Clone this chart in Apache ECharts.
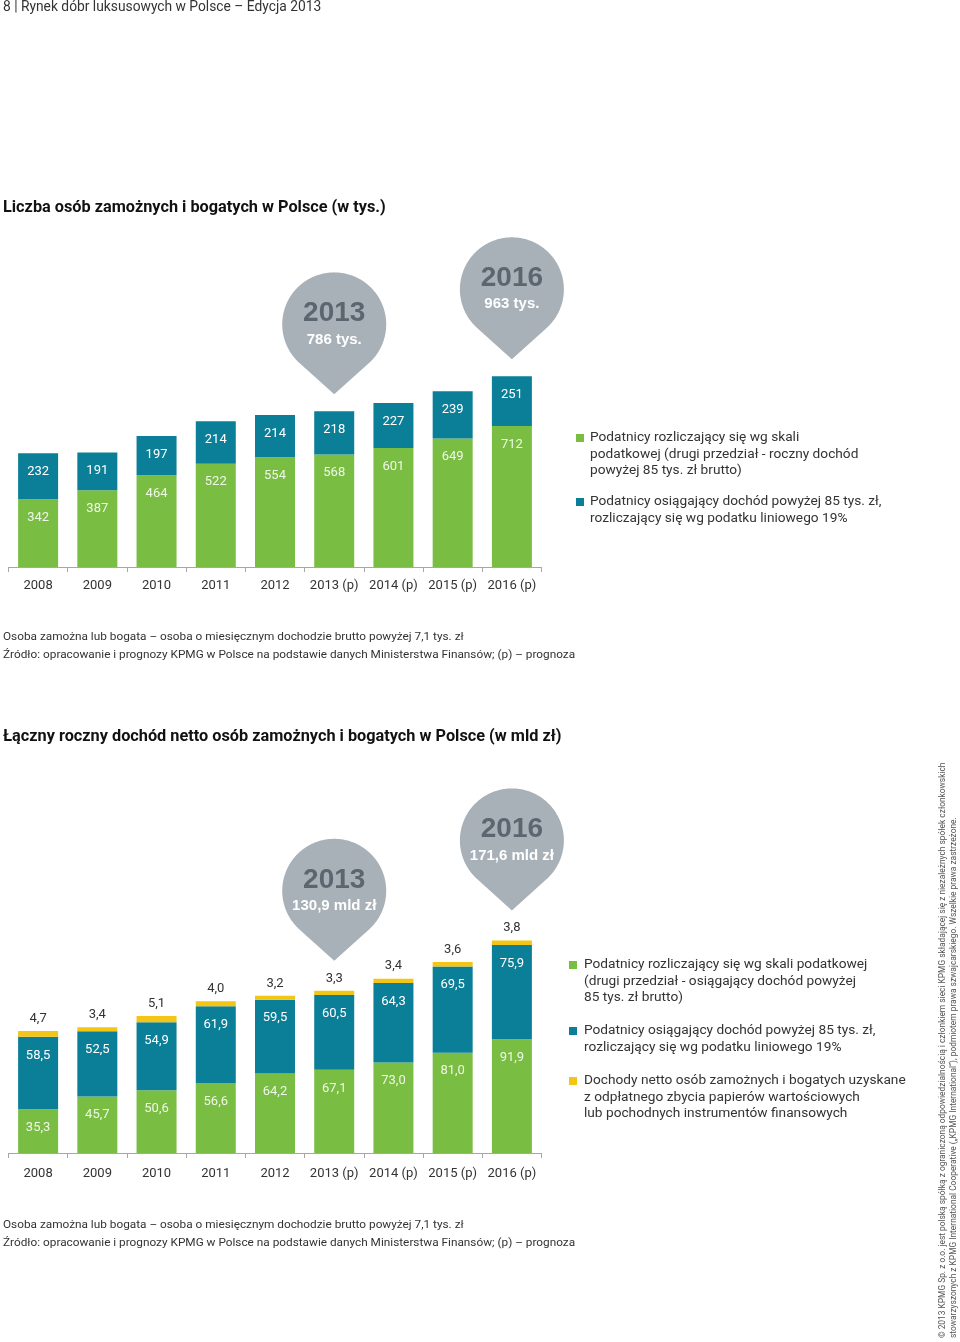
<!DOCTYPE html>
<html>
<head>
<meta charset="utf-8">
<script src="https://cdn.jsdelivr.net/npm/echarts@6/dist/echarts.min.js"></script>
<style>
html,body{margin:0;padding:0;background:#fff;}
#main{width:960px;height:1342px;}
</style>
</head>
<body>
<div id="main"></div>
<script>
// ---- Data ----
const categories = ['2008', '2009', '2010', '2011', '2012', '2013 (p)', '2014 (p)', '2015 (p)', '2016 (p)'];
// Chart 1: number of affluent & rich (thousands)
const people_scale = [342, 387, 464, 522, 554, 568, 601, 649, 712];
const people_linear = [232, 191, 197, 214, 214, 218, 227, 239, 251];
// Chart 2: total annual net income (bn PLN)
const income_scale = [35.3, 45.7, 50.6, 56.6, 64.2, 67.1, 73.0, 81.0, 91.9];
const income_linear = [58.5, 52.5, 54.9, 61.9, 59.5, 60.5, 64.3, 69.5, 75.9];
const income_securities = [4.7, 3.4, 5.1, 4.0, 3.2, 3.3, 3.4, 3.6, 3.8];
const highlightCats = ['2013 (p)', '2016 (p)'];

const GREEN = '#7abd43', TEAL = '#0b7f97', YELLOW = '#f3c515', GRAY = '#a9b1b8';
const FONT = 'Roboto, "Liberation Sans", sans-serif';

function idx(c){ return categories.indexOf(c); }
function total1(c){ const i = idx(c); return people_scale[i] + people_linear[i]; }
function total2(c){ const i = idx(c); return +(income_scale[i] + income_linear[i] + income_securities[i]).toFixed(1); }
function pl(v){ return v.toFixed(1).replace('.', ','); }

// speech-bubble (pin) shape: circle r=52 centred at (52,52), tip at (52,122)
function buildPinPath(){
  const cx = 52, cy = 52, r = 52;
  const a0 = 132, a1 = 408;
  let d = '';
  for (let a = a0; a <= a1; a += 1) {
    const rad = a * Math.PI / 180;
    const x = (cx + r * Math.cos(rad)).toFixed(2);
    const y = (cy + r * Math.sin(rad)).toFixed(2);
    d += (a === a0 ? 'M' : 'L') + x + ',' + y + ' ';
  }
  d += 'L52,122 Z';
  return 'path://' + d;
}
const pinPath = buildPinPath();

function pin(coord, gap, year, text){
  return {
    coord: coord,
    symbol: pinPath,
    symbolSize: [104, 122],
    symbolOffset: [0, -(61 + gap)],
    itemStyle: {color: GRAY},
    label: {
      show: true, position: 'inside', offset: [0, -9],
      formatter: '{y|' + year + '}\n{v|' + text + '}',
      rich: {
        y: {fontSize: 28, fontWeight: 'bold', color: '#5d6670', lineHeight: 30, fontFamily: '"Liberation Sans", Arial, sans-serif'},
        v: {fontSize: 15, fontWeight: 'bold', color: '#ffffff', lineHeight: 22, fontFamily: '"Liberation Sans", Arial, sans-serif'}
      }
    }
  };
}

const inLabel = (color) => ({
  show: true, position: 'insideTop', distance: 12, color: color,
  fontSize: 13, fontFamily: FONT
});

const chart = echarts.init(document.getElementById('main'), null, {renderer: 'canvas'});

function txt(x, y, text, opts){
  return {type: 'text', x: x, y: y, silent: true, style: Object.assign({
    text: text, fill: '#333', font: '13.7px ' + FONT, align: 'left', verticalAlign: 'middle'
  }, opts || {})};
}
// multi-line legend text: y is the centre of the first line
function legendText(x, y, text){
  const lh = 16.5;
  return {type: 'text', x: x, y: y - lh / 2, silent: true, style: {
    text: text, fill: '#333', font: '13.7px ' + FONT, align: 'left', verticalAlign: 'top', lineHeight: lh
  }};
}
function sq(x, y, color){
  return {type: 'rect', shape: {x: x, y: y - 4, width: 8, height: 8}, style: {fill: color}, silent: true};
}

const axisCommon = {
  type: 'category', data: categories,
  axisLine: {lineStyle: {color: '#a7a7a7', width: 1}},
  axisTick: {show: true, length: 5, lineStyle: {color: '#a7a7a7'}},
  axisLabel: {color: '#333', fontSize: 13, fontFamily: FONT, margin: 12, interval: 0}
};

const FOOT = '11.8px ' + FONT;

const option = {
  animation: false,
  backgroundColor: '#fff',
  grid: [
    {left: 8.5, width: 533, top: 369, height: 198},
    {left: 8.5, width: 533, top: 930, height: 223}
  ],
  xAxis: [
    Object.assign({gridIndex: 0}, axisCommon),
    Object.assign({gridIndex: 1}, axisCommon, {axisLabel: Object.assign({}, axisCommon.axisLabel, {margin: 14})})
  ],
  yAxis: [
    {gridIndex: 0, type: 'value', min: 0, max: 1000, show: false},
    {gridIndex: 1, type: 'value', min: 0, max: 180, show: false}
  ],
  series: [
    {name: 'Podatnicy rozliczający się wg skali podatkowej', type: 'bar', stack: 'a', xAxisIndex: 0, yAxisIndex: 0,
     barWidth: 40, data: people_scale, itemStyle: {color: GREEN}, label: inLabel('rgba(255,255,255,0.88)')},
    {name: 'Podatnicy rozliczający się wg podatku liniowego 19%', type: 'bar', stack: 'a', xAxisIndex: 0, yAxisIndex: 0,
     barWidth: 40, data: people_linear, itemStyle: {color: TEAL}, label: inLabel('#ffffff'),
     markPoint: {data: highlightCats.map(c => pin([c, total1(c)], 17, c.slice(0, 4), total1(c) + ' tys.'))}},
    {name: 'Skala podatkowa (dochód)', type: 'bar', stack: 'b', xAxisIndex: 1, yAxisIndex: 1,
     barWidth: 40, data: income_scale, itemStyle: {color: GREEN},
     label: Object.assign(inLabel('rgba(255,255,255,0.88)'), {formatter: p => pl(p.value)})},
    {name: 'Podatek liniowy (dochód)', type: 'bar', stack: 'b', xAxisIndex: 1, yAxisIndex: 1,
     barWidth: 40, data: income_linear, itemStyle: {color: TEAL},
     label: Object.assign(inLabel('#ffffff'), {formatter: p => pl(p.value)})},
    {name: 'Papiery wartościowe', type: 'bar', stack: 'b', xAxisIndex: 1, yAxisIndex: 1,
     barWidth: 40, data: income_securities, itemStyle: {color: YELLOW},
     label: {show: true, position: 'top', distance: 6, color: '#333', fontSize: 13, fontFamily: FONT, formatter: p => pl(p.value)},
     markPoint: {data: highlightCats.map(c => pin([c, total2(c)], 30, c.slice(0, 4), pl(total2(c)) + ' mld zł'))}}
  ],
  graphic: [
    txt(3, 8, '8 | Rynek dóbr luksusowych w Polsce – Edycja 2013', {font: '13.8px ' + FONT, fill: '#333'}),
    txt(3, 208, 'Liczba osób zamożnych i bogatych w Polsce (w tys.)', {font: 'bold 16.3px ' + FONT, fill: '#111'}),
    txt(3, 737, 'Łączny roczny dochód netto osób zamożnych i bogatych w Polsce (w mld zł)', {font: 'bold 16.3px ' + FONT, fill: '#111'}),
    // legend 1
    sq(576, 438, GREEN),
    legendText(590, 438, 'Podatnicy rozliczający się wg skali\npodatkowej (drugi przedział - roczny dochód\npowyżej 85 tys. zł brutto)'),
    sq(576, 502, TEAL),
    legendText(590, 502, 'Podatnicy osiągający dochód powyżej 85 tys. zł,\nrozliczający się wg podatku liniowego 19%'),
    // legend 2
    sq(569, 965, GREEN),
    legendText(584, 965, 'Podatnicy rozliczający się wg skali podatkowej\n(drugi przedział - osiągający dochód powyżej\n85 tys. zł brutto)'),
    sq(569, 1031, TEAL),
    legendText(584, 1031, 'Podatnicy osiągający dochód powyżej 85 tys. zł,\nrozliczający się wg podatku liniowego 19%'),
    sq(569, 1081, YELLOW),
    legendText(584, 1081, 'Dochody netto osób zamożnych i bogatych uzyskane\nz odpłatnego zbycia papierów wartościowych\nlub pochodnych instrumentów finansowych'),
    // footnotes
    txt(3, 637, 'Osoba zamożna lub bogata – osoba o miesięcznym dochodzie brutto powyżej 7,1 tys. zł', {font: FOOT}),
    txt(3, 655, 'Źródło: opracowanie i prognozy KPMG w Polsce na podstawie danych Ministerstwa Finansów; (p) – prognoza', {font: FOOT}),
    txt(3, 1225, 'Osoba zamożna lub bogata – osoba o miesięcznym dochodzie brutto powyżej 7,1 tys. zł', {font: FOOT}),
    txt(3, 1243, 'Źródło: opracowanie i prognozy KPMG w Polsce na podstawie danych Ministerstwa Finansów; (p) – prognoza', {font: FOOT}),
    // vertical copyright
    {type: 'text', x: 943, y: 1338, rotation: Math.PI / 2, silent: true,
     style: {text: '© 2013 KPMG Sp. z o.o. jest polską spółką z ograniczoną odpowiedzialnością i członkiem sieci KPMG składającej się z niezależnych spółek członkowskich',
             fill: '#555', font: '8.4px ' + FONT, align: 'left', verticalAlign: 'middle'}},
    {type: 'text', x: 954, y: 1338, rotation: Math.PI / 2, silent: true,
     style: {text: 'stowarzyszonych z KPMG International Cooperative („KPMG International”), podmiotem prawa szwajcarskiego. Wszelkie prawa zastrzeżone.',
             fill: '#555', font: '8.4px ' + FONT, align: 'left', verticalAlign: 'middle'}}
  ]
};
chart.setOption(option);
</script>
</body>
</html>
